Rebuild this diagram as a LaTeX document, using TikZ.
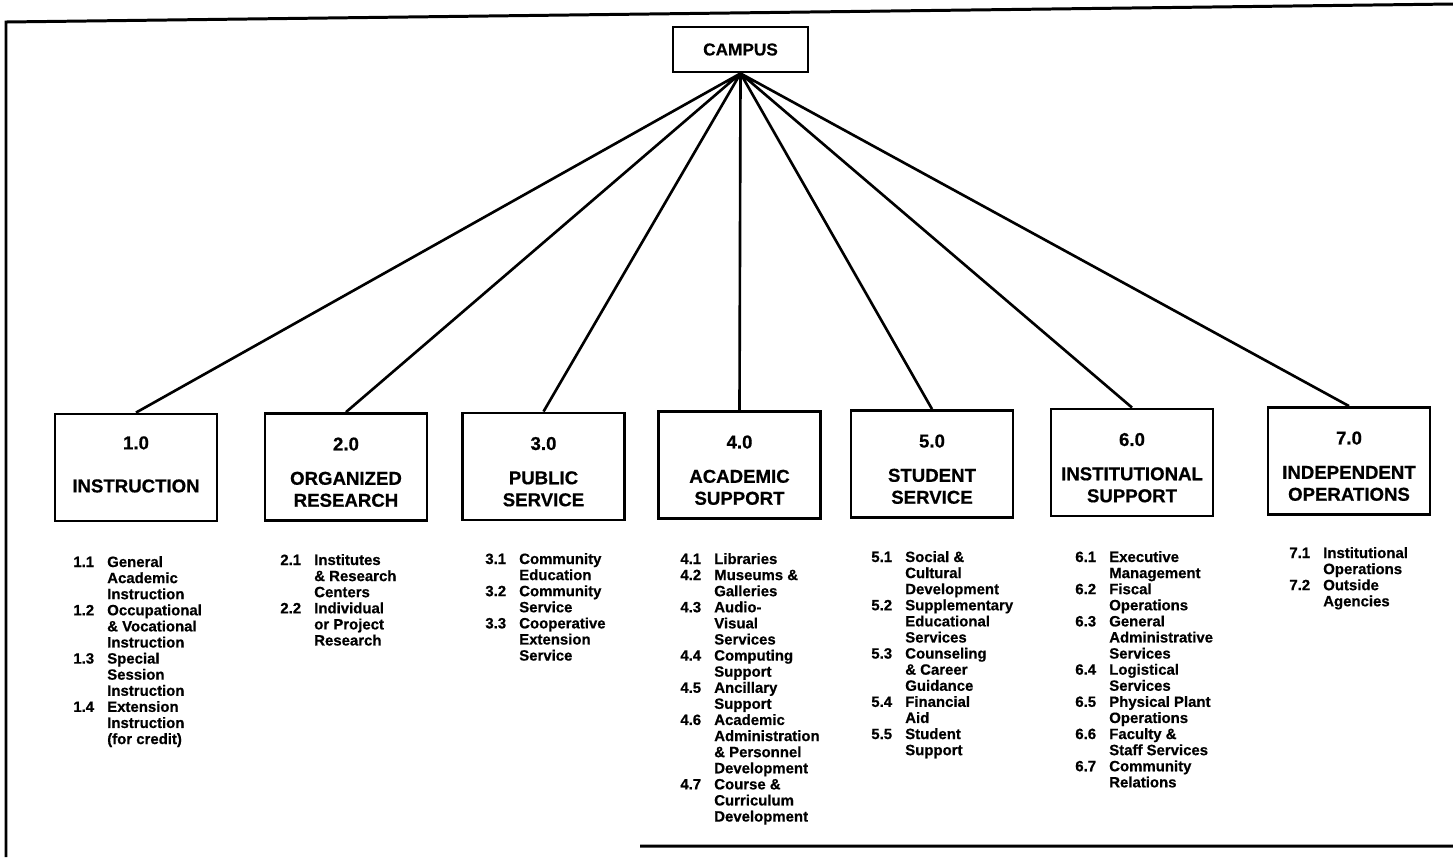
\documentclass[tikz,border=0pt]{standalone}
\usepackage{fontspec}
\setmainfont{Liberation Sans}[BoldFeatures={FakeBold=0.6}]
\usepackage{tikz}
\newcommand\hdfont{\fontsize{10.6}{12.5}\selectfont\bfseries}
\newcommand\lsfont{\fontsize{8.5}{9.16}\selectfont\bfseries}

\begin{document}
\begin{tikzpicture}[
	unit/.style={draw, line width=1.6pt, minimum width=3.24cm, minimum height=2.14cm, align=center, font=\hdfont},
	top/.style={draw, line width=1.6pt, minimum width=2.7cm, minimum height=0.9cm, font=\fontsize{9.8}{11}\selectfont\bfseries},
	list/.style={anchor=base west, inner sep=0pt, font=\lsfont}]
\useasboundingbox (0,0) rectangle (29.06,-17.14);
\draw[line width=1.7pt]
	(0.12,-17.14) -- (0.12,-0.44) -- (29.06,-0.08)
	(12.8,-16.92) -- (29.06,-16.92);
\draw
	(14.81,-0.99) node (campus) [top]{CAMPUS}
	(2.72,-9.35) node (instr) [unit]{1.0\\[12pt]INSTRUCTION\rule[-3.6pt]{0pt}{3.6pt}}
	(6.92,-9.34) node (research) [unit]{\rule{0pt}{13.3pt}2.0\\[7pt]ORGANIZED\\RESEARCH}
	(10.87,-9.33) node (public) [unit]{\rule{0pt}{13.3pt}3.0\\[7pt]PUBLIC\\SERVICE}
	(14.79,-9.30) node (academic) [unit]{\rule{0pt}{13.3pt}4.0\\[7pt]ACADEMIC\\SUPPORT}
	(18.64,-9.28) node (student) [unit]{\rule{0pt}{13.3pt}5.0\\[7pt]STUDENT\\SERVICE}
	(22.64,-9.25) node (institutional) [unit]{\rule{0pt}{13.3pt}6.0\\[7pt]INSTITUTIONAL\\SUPPORT}
	(26.98,-9.22) node (independent) [unit]{\rule{0pt}{13.3pt}7.0\\[7pt]INDEPENDENT\\OPERATIONS};
\draw[line width=1.5pt]
	(campus.south) -- (instr.north)
	(campus.south) -- (research.north)
	(campus.south) -- (public.north)
	(campus.south) -- (academic.north)
	(campus.south) -- (student.north)
	(campus.south) -- (institutional.north)
	(campus.south) -- (independent.north);
\path
	(1.46,-11.34) node (instrlist) [list]{\begin{tabular}[t]{@{}p{19.3pt}@{}l@{}}
		1.1&General\\&Academic\\&Instruction\\
		1.2&Occupational\\&\& Vocational\\&Instruction\\
		1.3&Special\\&Session\\&Instruction\\
		1.4&Extension\\&Instruction\\&(for credit)\end{tabular}}
	(5.60,-11.30) node (researchlist) [list]{\begin{tabular}[t]{@{}p{19.3pt}@{}l@{}}
		2.1&Institutes\\&\& Research\\&Centers\\
		2.2&Individual\\&or Project\\&Research\end{tabular}}
	(9.70,-11.28) node (publiclist) [list]{\begin{tabular}[t]{@{}p{19.3pt}@{}l@{}}
		3.1&Community\\&Education\\
		3.2&Community\\&Service\\
		3.3&Cooperative\\&Extension\\&Service\end{tabular}}
	(13.60,-11.28) node (academiclist) [list]{\begin{tabular}[t]{@{}p{19.3pt}@{}l@{}}
		4.1&Libraries\\
		4.2&Museums \&\\&Galleries\\
		4.3&Audio-\\&Visual\\&Services\\
		4.4&Computing\\&Support\\
		4.5&Ancillary\\&Support\\
		4.6&Academic\\&Administration\\&\& Personnel\\&Development\\
		4.7&Course \&\\&Curriculum\\&Development\end{tabular}}
	(17.42,-11.24) node (studentlist) [list]{\begin{tabular}[t]{@{}p{19.3pt}@{}l@{}}
		5.1&Social \&\\&Cultural\\&Development\\
		5.2&Supplementary\\&Educational\\&Services\\
		5.3&Counseling\\&\& Career\\&Guidance\\
		5.4&Financial\\&Aid\\
		5.5&Student\\&Support\end{tabular}}
	(21.50,-11.24) node (institutionallist) [list]{\begin{tabular}[t]{@{}p{19.3pt}@{}l@{}}
		6.1&Executive\\&Management\\
		6.2&Fiscal\\&Operations\\
		6.3&General\\&Administrative\\&Services\\
		6.4&Logistical\\&Services\\
		6.5&Physical Plant\\&Operations\\
		6.6&Faculty \&\\&Staff Services\\
		6.7&Community\\&Relations\end{tabular}}
	(25.78,-11.16) node (independentlist) [list]{\begin{tabular}[t]{@{}p{19.3pt}@{}l@{}}
		7.1&Institutional\\&Operations\\
		7.2&Outside\\&Agencies\end{tabular}};
\end{tikzpicture}
\end{document}
